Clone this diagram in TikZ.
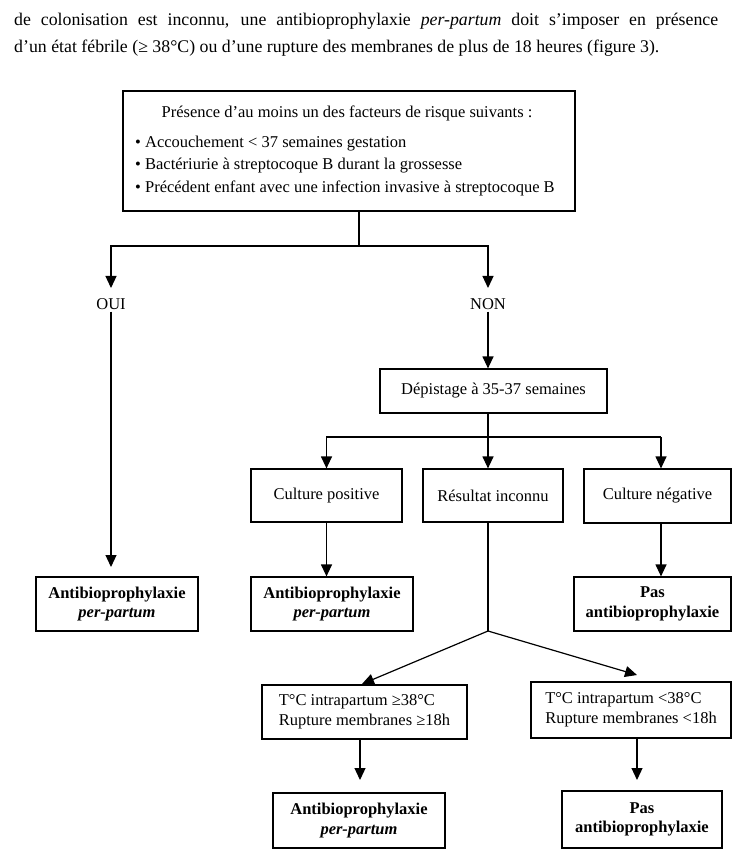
\documentclass[tikz,border=0pt]{standalone}
\usepackage{fontspec}
\setmainfont{Liberation Serif}
\usetikzlibrary{arrows.meta}
\tikzset{
  box/.style={draw, line width=1.2pt, inner sep=0pt, align=center, font=\fontsize{16.5}{19.5}\selectfont},
  lbl/.style={inner sep=2pt, font=\fontsize{16.5}{19.5}\selectfont},
  para/.style={anchor=base west, inner sep=0pt, font=\fontsize{17.8}{27}\selectfont},
  arr/.style={line width=1.2pt, -{Triangle[width=11pt,length=12pt]}},
  ln/.style={line width=1.2pt},
}
\begin{document}
\begin{tikzpicture}[x=1pt,y=-1pt]
\useasboundingbox (0,0) rectangle (732,858);
% paragraph
\node[para] (p1) at (14,26)
  {\makebox[704pt][s]{de colonisation est inconnu, une antibioprophylaxie \textit{per-partum} doit s’imposer en présence}};
\node[para] (p2) at (14,53)
  {d’un état fébrile (≥ 38°C) ou d’une rupture des membranes de plus de 18 heures (figure 3).};
% top box
\node[box, minimum width=452pt, minimum height=120pt] (top) at (349,151) {};
\node[lbl] (ttl) at (347,113) {Présence d’au moins un des facteurs de risque suivants :};
\node[lbl, anchor=west] (b1) at (133,144) {\textbullet\ Accouchement < 37 semaines gestation};
\node[lbl, anchor=west] (b2) at (133,166) {\textbullet\ Bactériurie à streptocoque B durant la grossesse};
\node[lbl, anchor=west] (b3) at (133,188) {\textbullet\ Précédent enfant avec une infection invasive à streptocoque B};
% OUI / NON
\node[lbl] (oui) at (111,304) {OUI};
\node[lbl] (non) at (488,304) {NON};
\coordinate (split) at (359,246);
\coordinate (ouitip) at (111,288);
\coordinate (nontip) at (488,288);
\draw[ln] (top.south -| split) -- (split);
\draw[arr] (split) -| (ouitip);
\draw[arr] (split) -| (nontip);
% Depistage
\node[box, minimum width=227pt, minimum height=44pt] (dep) at (493.5,391) {Dépistage à 35-37 semaines};
\draw[arr] (non.south) -- (non.south |- dep.north);
\coordinate (split2) at (488,437);
\draw[ln] (dep.south -| split2) -- (split2);
% row of cultures
\node[box, minimum width=151pt, minimum height=53pt] (cpos) at (326.5,495.5) {Culture positive};
\node[box, minimum width=140pt, minimum height=53pt] (rinc) at (493,495.5) {Résultat inconnu};
\node[box, minimum width=147pt, minimum height=54pt] (cneg) at (657.5,496) {Culture négative};
\coordinate (negx) at (661,437);
\draw[arr] (split2) -| (cpos.north);
\draw[arr] (split2) -- (split2 |- rinc.north);
\draw[ln] (split2) -- (negx);
\draw[arr] (negx) -- (negx |- cneg.north);
% results row
\node[box, minimum width=162pt, minimum height=54pt] (ab1) at (117,604) {\textbf{Antibioprophylaxie}\\\textbf{\textit{per-partum}}};
\node[box, minimum width=162pt, minimum height=54pt] (ab2) at (332,604) {\textbf{Antibioprophylaxie}\\\textbf{\textit{per-partum}}};
\node[box, minimum width=157pt, minimum height=54pt] (pas1) at (652.5,604) {\textbf{Pas}\\\textbf{antibioprophylaxie}};
\coordinate (ouiend) at (111,567);
\draw[arr] (oui.south) -- (ouiend);
\draw[arr] (cpos.south) -- (cpos.south |- ab2.north);
\draw[arr] (negx |- cneg.south) -- (negx |- pas1.north);
% unknown result branch
\coordinate (split3) at (488,631);
\draw[ln] (rinc.south -| split3) -- (split3);
\node[box, minimum width=205pt, minimum height=54pt, align=left] (t1) at (364.5,712)
  {T°C intrapartum ≥38°C\\Rupture membranes ≥18h};
\node[box, minimum width=200pt, minimum height=56pt, align=left] (t2) at (631,710)
  {T°C intrapartum <38°C\\Rupture membranes <18h};
\coordinate (t1tip) at (362,684);
\coordinate (t2tip) at (637,675);
\draw[arr] (split3) -- (t1tip);
\draw[arr] (split3) -- (t2tip);
% final row
\node[box, minimum width=172pt, minimum height=55pt] (ab3) at (359,820.5) {\textbf{Antibioprophylaxie}\\\textbf{\textit{per-partum}}};
\node[box, minimum width=160pt, minimum height=57pt] (pas2) at (642,819.5) {\textbf{Pas}\\\textbf{antibioprophylaxie}};
\coordinate (t1x) at (360,739);
\coordinate (t2x) at (637,738);
\coordinate (ab3tip) at (360,780);
\coordinate (pas2tip) at (637,780);
\draw[arr] (t1x) -- (ab3tip);
\draw[arr] (t2x) -- (pas2tip);
\end{tikzpicture}
\end{document}
